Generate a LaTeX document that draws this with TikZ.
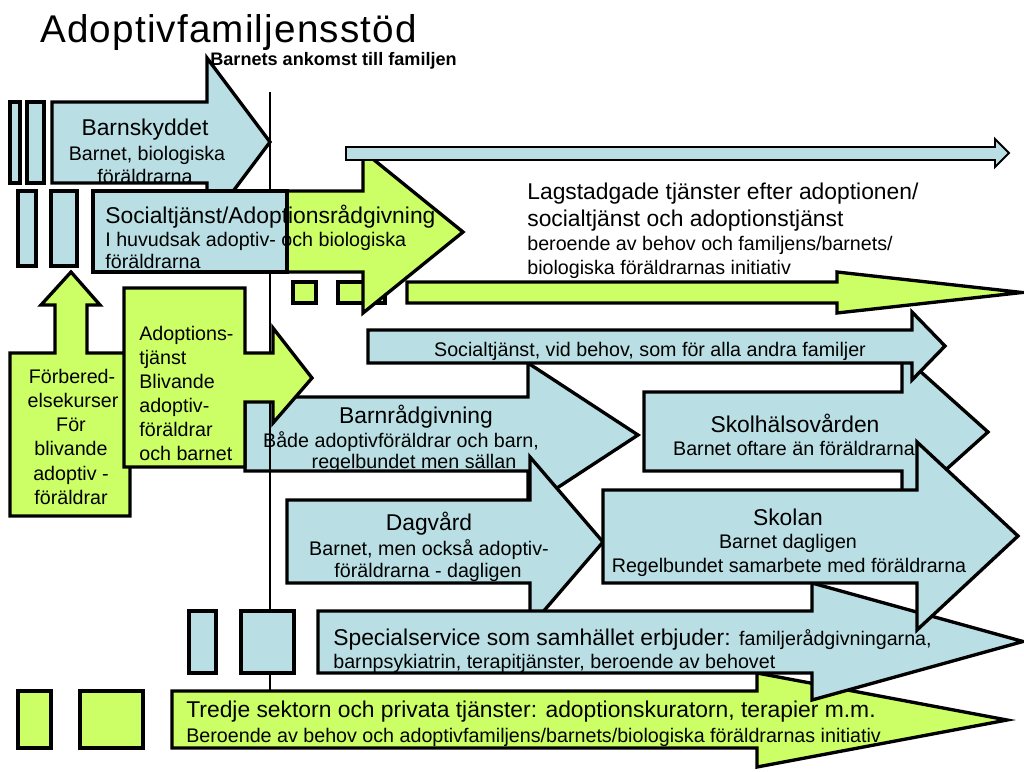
\documentclass[tikz,border=0pt]{standalone}
\usepackage{fontspec}
\setmainfont{Liberation Sans}
\definecolor{boxblue}{RGB}{185,223,228}
\definecolor{boxgreen}{RGB}{204,255,102}
\newcommand\bigf{\fontsize{13}{15}\selectfont}
\newcommand\smallf{\fontsize{11.2}{13}\selectfont}
% block arrow: style, body left, head base, body top, body bottom, head top, head bottom, tip
\newcommand\blockarrow[8]{%
  \draw[#1] (#2,#4) -- (#3,#4) -- (#3,#6) -- (#8,{(#6+#7)/2}) -- (#3,#7)
    -- (#3,#5) -- (#2,#5) -- cycle;}

\begin{document}
\begin{tikzpicture}[
  x=0.02cm, y=-0.02cm,
  outline/.style = {draw=black, line width=1.9pt, line join=miter},
  blueshape/.style = {outline, fill=boxblue},
  greenshape/.style = {outline, fill=boxgreen},
  thinblue/.style = {draw=black, line width=1.1pt, fill=boxblue},
  txt/.style = {inner sep=0pt, anchor=base},
  lefttxt/.style = {inner sep=0pt, anchor=base west}
  ]
  \useasboundingbox[fill=white] (0,0) rectangle (1024,771);

  % title and time mark
  \node[lefttxt, font=\fontsize{22}{26}\selectfont\addfontfeature{LetterSpace=3}] (title) at (40,42) {Adoptivfamiljensstöd};
  \node[lefttxt, font=\bfseries\fontsize{10.3}{12}\selectfont] (ankomst) at (210,65) {Barnets ankomst till familjen};

  % Barnskyddet
  \blockarrow{blueshape}{52}{207}{102}{183}{58}{226}{270}
  \node[txt, font=\bigf]   (bs1) at (145,135) {Barnskyddet};
  \node[txt, font=\smallf] (bs2) at (147,160) {Barnet, biologiska};
  \node[txt, font=\smallf] (bs3) at (145,183) {föräldrarna};
  \draw[blueshape] (10,102) rectangle (20,183);
  \draw[blueshape] (27,102) rectangle (44,183);

  % Barnrådgivning
  \blockarrow{blueshape}{245}{528}{397}{471}{363}{507}{638}
  \node[txt, font=\bigf]   (br1) at (416,423) {Barnrådgivning};
  \node[txt, font=\smallf] (br2) at (401,447) {Både adoptivföräldrar och barn,};
  \node[txt, font=\smallf] (br3) at (414,468) {regelbundet men sällan};

  % time line
  \coordinate (ttop) at (270,92);
  \coordinate (tbot) at (270,691);
  \draw[line width=1.6pt] (ttop) -- (tbot);

  % Socialtjänst/Adoptionsrådgivning
  \draw[greenshape] (293,282) rectangle (316,303);
  \draw[greenshape] (338,282) rectangle (385,303);
  \blockarrow{greenshape}{100}{363}{191}{272}{151}{313}{463}
  \draw[blueshape] (93,191) rectangle (287,272);
  \node[lefttxt, font=\bigf]   (sa1) at (105,223) {Socialtjänst/Adoptionsrådgivning};
  \node[lefttxt, font=\smallf] (sa2) at (105,246) {I huvudsak adoptiv- och biologiska};
  \node[lefttxt, font=\smallf] (sa3) at (105,268) {föräldrarna};
  \draw[blueshape] (18,191) rectangle (36,266);
  \draw[blueshape] (51,191) rectangle (77,266);

  % Lagstadgade tjänster
  \blockarrow{thinblue}{346}{995}{147}{160}{139}{167}{1009}
  \node[lefttxt, font=\bigf]   (lt1) at (527,199) {Lagstadgade tjänster efter adoptionen/};
  \node[lefttxt, font=\bigf]   (lt2) at (527,226) {socialtjänst och adoptionstjänst};
  \node[lefttxt, font=\smallf] (lt3) at (527,250) {beroende av behov och familjens/barnets/};
  \node[lefttxt, font=\smallf] (lt4) at (527,274) {biologiska föräldrarnas initiativ};
  \blockarrow{greenshape}{407}{837}{282}{303}{272}{313}{1022}

  % Förberedelsekurser
  \draw[greenshape] (10,353) -- (55,353) -- (55,305) -- (41,305) -- (71,272)
    -- (100,305) -- (87,305) -- (87,353) -- (130,353) -- (130,516) -- (10,516) -- cycle;
  \node[txt, font=\smallf] (fk1) at (72,383) {Förbered-};
  \node[txt, font=\smallf] (fk2) at (73,407) {elsekurser};
  \node[txt, font=\smallf] (fk3) at (71,431) {För};
  \node[txt, font=\smallf] (fk4) at (71,455) {blivande};
  \node[txt, font=\smallf] (fk5) at (71,480) {adoptiv -};
  \node[txt, font=\smallf] (fk6) at (71,504) {föräldrar};

  % Adoptionstjänst
  \draw[greenshape] (124,288) -- (245,288) -- (245,353) -- (273,353) -- (273,328) -- (312,378)
    -- (273,423) -- (273,402) -- (245,402) -- (245,467) -- (124,467) -- cycle;
  \node[lefttxt, font=\smallf] (at1) at (139,340) {Adoptions-};
  \node[lefttxt, font=\smallf] (at2) at (139,364) {tjänst};
  \node[lefttxt, font=\smallf] (at3) at (139,388) {Blivande};
  \node[lefttxt, font=\smallf] (at4) at (139,412) {adoptiv-};
  \node[lefttxt, font=\smallf] (at5) at (139,436) {föräldrar};
  \node[lefttxt, font=\smallf] (at6) at (139,460) {och barnet};

  % Skolhälsovården
  \blockarrow{blueshape}{644}{902}{392}{471}{355}{509}{988}
  \node[txt, font=\bigf]   (sh1) at (795,432) {Skolhälsovården};
  \node[txt, font=\smallf] (sh2) at (794,455) {Barnet oftare än föräldrarna};

  % Socialtjänst vid behov
  \blockarrow{blueshape}{368}{912}{330}{363}{312}{380}{945}
  \node[txt, font=\smallf] (sv) at (650,356) {Socialtjänst, vid behov, som för alla andra familjer};

  % Dagvård
  \blockarrow{blueshape}{287}{530}{500}{583}{457}{627}{603}
  \node[txt, font=\bigf]   (dv1) at (429,530) {Dagvård};
  \node[txt, font=\smallf] (dv2) at (429,555) {Barnet, men också adoptiv-};
  \node[txt, font=\smallf] (dv3) at (428,577) {föräldrarna - dagligen};

  % Tredje sektorn
  \blockarrow{greenshape}{172}{757}{691}{748}{673}{767}{1007}
  \node[lefttxt, font=\bigf]   (ts1) at (186,717) {Tredje sektorn och privata tjänster: adoptionskuratorn, terapier m.m.};
  \node[lefttxt, font=\smallf] (ts2) at (186,742) {Beroende av behov och adoptivfamiljens/barnets/biologiska föräldrarnas initiativ};
  \draw[greenshape] (18,691) rectangle (51,748);
  \draw[greenshape] (80,691) rectangle (143,748);

  % Specialservice
  \blockarrow{blueshape}{318}{812}{611}{673}{583}{700}{1023}
  \node[lefttxt] (ss1) at (333,645) {\bigf Specialservice som samhället erbjuder: \smallf familjerådgivningarna,};
  \node[lefttxt, font=\smallf] (ss2) at (333,668) {barnpsykiatrin, terapitjänster, beroende av behovet};
  \draw[blueshape] (189,611) rectangle (216,673);
  \draw[blueshape] (241,611) rectangle (294,673);

  % Skolan
  \blockarrow{blueshape}{603}{917}{490}{583}{442}{630}{1018}
  \node[txt, font=\bigf]   (sk1) at (788,525) {Skolan};
  \node[txt, font=\smallf] (sk2) at (788,548) {Barnet dagligen};
  \node[txt, font=\smallf] (sk3) at (789,572) {Regelbundet samarbete med föräldrarna};
\end{tikzpicture}
\end{document}
